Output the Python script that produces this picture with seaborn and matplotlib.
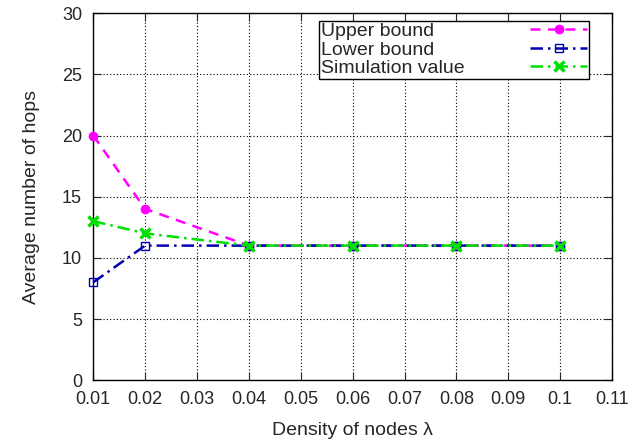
import matplotlib
matplotlib.use("Agg")
import matplotlib.pyplot as plt
import pandas as pd
import seaborn as sns

# data
density = [0.01, 0.02, 0.04, 0.06, 0.08, 0.1]
upper_bound = [20, 14, 11, 11, 11, 11]
lower_bound = [8, 11, 11, 11, 11, 11]
simulation = [13, 12, 11, 11, 11, 11]

x_ticks = [0.01, 0.02, 0.03, 0.04, 0.05, 0.06, 0.07, 0.08, 0.09, 0.1, 0.11]
x_tick_labels = ["0.01", "0.02", "0.03", "0.04", "0.05", "0.06", "0.07", "0.08", "0.09", "0.1", "0.11"]
y_ticks = [0, 5, 10, 15, 20, 25, 30]

sns.set_style("ticks")
plt.rcParams["font.family"] = ["Liberation Sans", "DejaVu Sans"]

df = pd.DataFrame({
    "density": density * 3,
    "hops": upper_bound + lower_bound + simulation,
    "series": ["Upper bound"] * 6 + ["Lower bound"] * 6 + ["Simulation value"] * 6,
})

fig = plt.figure(figsize=(6.43, 4.40), dpi=100)
ax = fig.add_axes([0.145, 0.136, 0.807, 0.834])

styles = {
    "Upper bound": dict(color="#ff00ff", marker="o", ls=(0, (4, 3)), mfc="#ff00ff", ms=6, mew=1),
    "Lower bound": dict(color="#0000b0", marker="s", ls=(0, (5, 2, 1, 2)), mfc="none", ms=6, mew=1),
    "Simulation value": dict(color="#00e000", marker="x", ls=(0, (5, 2, 1, 2)), mfc="none", ms=7, mew=2.5),
}
for name, st in styles.items():
    sub = df[df["series"] == name]
    sns.lineplot(data=sub, x="density", y="hops", ax=ax, label=name,
                 color=st["color"], marker=st["marker"], linestyle=st["ls"],
                 markerfacecolor=st["mfc"], markeredgecolor=st["color"],
                 markersize=st["ms"], markeredgewidth=st["mew"], linewidth=1.8,
                 clip_on=False, zorder=3)

ax.set_xlim(0.01, 0.11)
ax.set_ylim(0, 30)
ax.set_xticks(x_ticks)
ax.set_xticklabels(x_tick_labels)
ax.set_yticks(y_ticks)
ax.tick_params(direction="in", top=True, right=True, labelsize=13, pad=8, length=6)
ax.grid(True, color="black", linestyle=(0, (1, 2)), linewidth=0.8)
for sp in ax.spines.values():
    sp.set_color("black")
    sp.set_linewidth(1)

ax.set_xlabel("Density of nodes λ", fontsize=14, labelpad=10)
ax.set_ylabel("Average number of hops", fontsize=14, labelpad=16)

leg = ax.legend(loc="upper right", bbox_to_anchor=(0.955, 0.98), markerfirst=False,
                frameon=True, fancybox=False, edgecolor="black", fontsize=14,
                handlelength=2.9, borderpad=0.1, labelspacing=0.05, handletextpad=1.0,
                borderaxespad=0)
leg.get_frame().set_linewidth(1)
leg.get_frame().set_alpha(1)
leg.set_zorder(5)

# gnuplot style legend: labels flush left, samples flush right
fig.canvas.draw()
renderer = fig.canvas.get_renderer()
widths = [t.get_window_extent(renderer).width for t in leg.get_texts()]
max_w = max(widths)
base_sep = 3.4 * 14
for col in leg._legend_handle_box.get_children():
    col.align = "left"
    for item, w in zip(col.get_children(), widths):
        item.sep = base_sep + (max_w - w) * 72 / fig.dpi

fig.savefig("out.png", dpi=100)
